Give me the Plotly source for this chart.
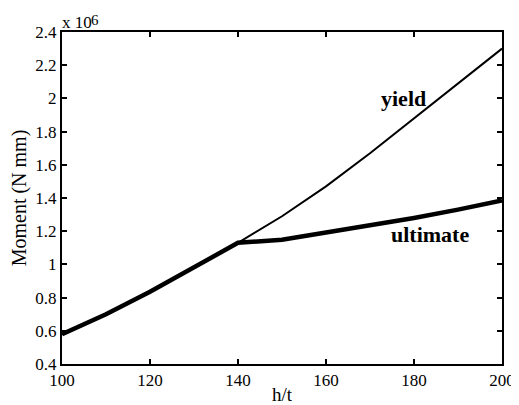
import plotly.graph_objects as go

ht = [100, 110, 120, 130, 140, 150, 160, 170, 180, 190, 200]
yield_moment = [0.58, 0.70, 0.835, 0.98, 1.13, 1.29, 1.47, 1.67, 1.88, 2.09, 2.30]
ult_ht = [100, 110, 120, 130, 140, 150, 160, 170, 180, 190, 200]
ultimate_moment = [0.58, 0.70, 0.835, 0.98, 1.13, 1.148, 1.19, 1.235, 1.28, 1.33, 1.385]

x_ticks = [100, 120, 140, 160, 180, 200]
y_ticks = [0.4, 0.6, 0.8, 1.0, 1.2, 1.4, 1.6, 1.8, 2.0, 2.2, 2.4]
y_tick_labels = ["0.4", "0.6", "0.8", "1", "1.2", "1.4", "1.6", "1.8", "2", "2.2", "2.4"]

FONT = "Liberation Serif"

fig = go.Figure()
fig.add_trace(go.Scatter(x=ht, y=yield_moment, mode="lines",
                         line=dict(color="black", width=2), name="yield"))
fig.add_trace(go.Scatter(x=ult_ht, y=ultimate_moment, mode="lines",
                         line=dict(color="black", width=4.5), name="ultimate"))

fig.add_annotation(x=177.5, y=2.0, text="<b>yield</b>", showarrow=False,
                   font=dict(family=FONT, size=22, color="black"), xanchor="center", yanchor="middle")
fig.add_annotation(x=183.6, y=1.18, text="<b>ultimate</b>", showarrow=False,
                   font=dict(family=FONT, size=22, color="black"), xanchor="center", yanchor="middle")
fig.add_annotation(xref="paper", yref="paper", x=-0.005, y=1.0, yshift=-2,
                   text="x 10", showarrow=False,
                   font=dict(family=FONT, size=17, color="black"), xanchor="left", yanchor="bottom")
fig.add_annotation(xref="paper", yref="paper", x=0.062, y=1.0, yshift=2,
                   text="6", showarrow=False,
                   font=dict(family=FONT, size=15, color="black"), xanchor="left", yanchor="bottom")

axis_common = dict(showline=True, linecolor="black", linewidth=2, mirror="ticks",
                   ticks="inside", ticklen=5, tickwidth=1.5, tickcolor="black",
                   showgrid=False, zeroline=False, automargin=False,
                   tickfont=dict(family=FONT, size=17, color="black"))

fig.update_layout(
    width=511, height=397,
    margin=dict(l=54, r=17, t=24, b=41),
    paper_bgcolor="white", plot_bgcolor="white",
    showlegend=False,
    xaxis=dict(range=[100, 200], tickvals=x_ticks,
               title=dict(text="h/t", font=dict(family=FONT, size=19, color="black"), standoff=2),
               **axis_common),
    yaxis=dict(range=[0.4, 2.4], tickvals=y_ticks, ticktext=y_tick_labels,
               title=dict(text="Moment (N mm)", font=dict(family=FONT, size=20, color="black"), standoff=4),
               **axis_common),
)

fig.write_html("out.html")
